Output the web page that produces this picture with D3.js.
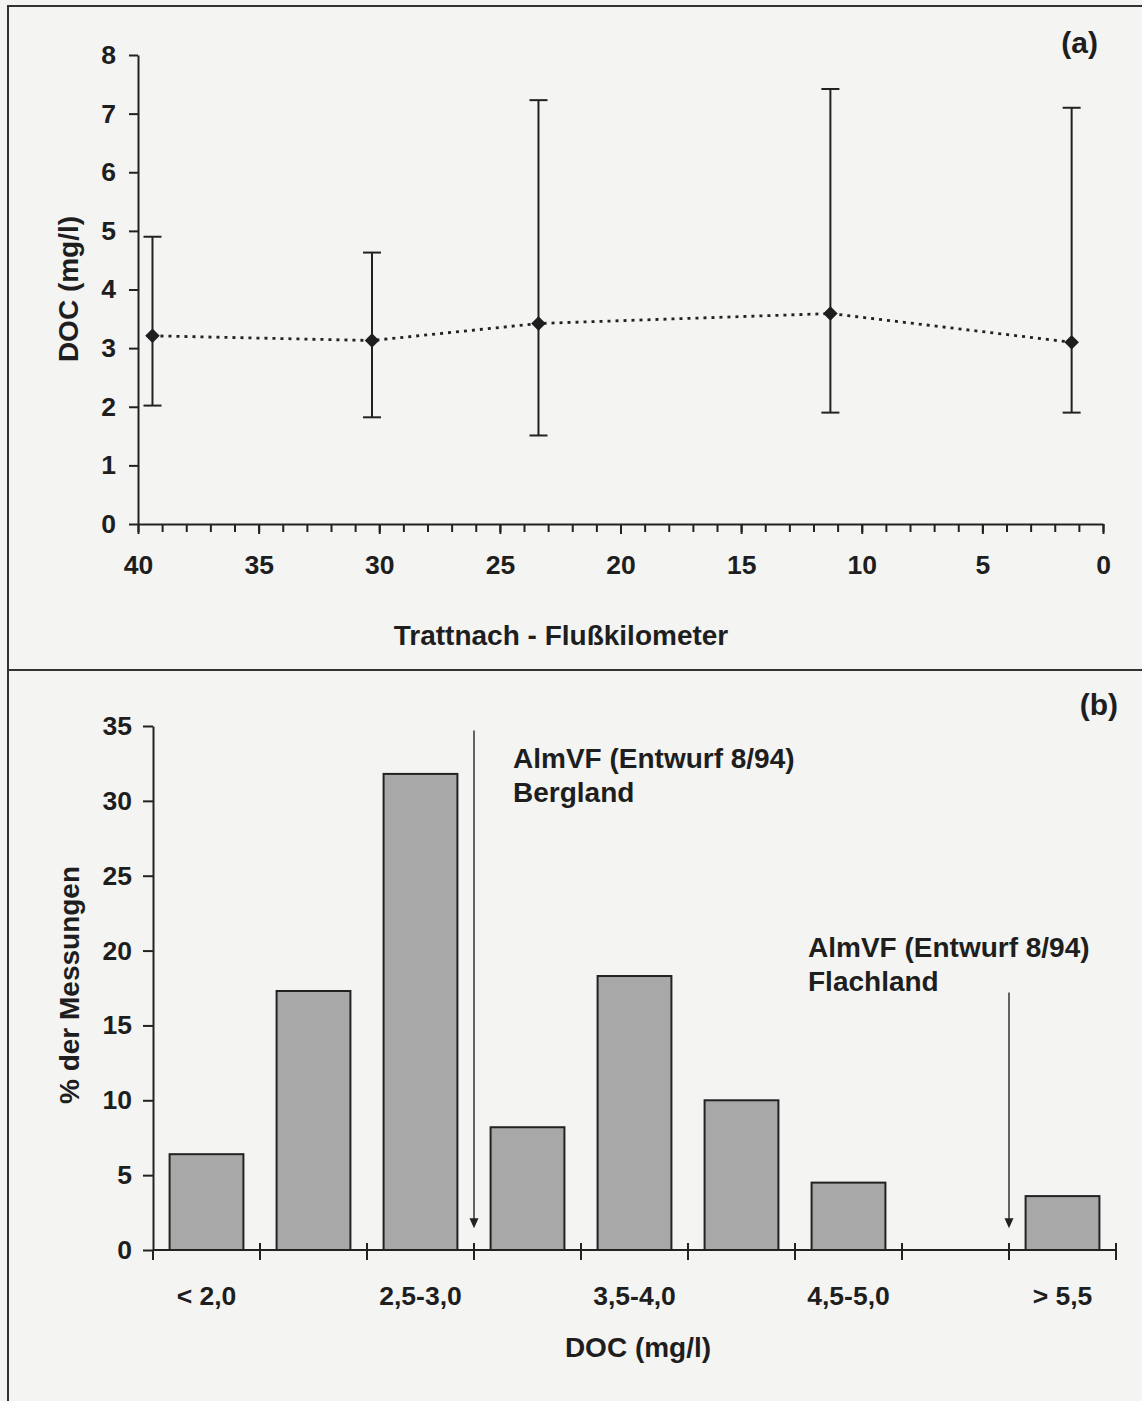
<!DOCTYPE html>
<html>
<head>
<meta charset="utf-8">
<script src="https://cdn.jsdelivr.net/npm/d3@7"></script>
<style>
  body { margin: 0; background: #f4f4f2; }
  svg { display: block; }
  text { font-family: "Liberation Sans", Arial, sans-serif; font-weight: bold; fill: #1e1e1e; }
  .axis path, .axis line { stroke: #222; stroke-width: 2; }
</style>
</head>
<body>
<div id="chart"></div>
<script>
// panel (a): DOC along the river
const kmPos   = [39.4, 30.3, 23.4, 11.3, 1.3];
const docMean = [3.21, 3.13, 3.42, 3.59, 3.10];
const docMin  = [2.02, 1.82, 1.51, 1.90, 1.90];
const docMax  = [4.90, 4.63, 7.23, 7.42, 7.10];
const docTicks = [0, 1, 2, 3, 4, 5, 6, 7, 8];
const kmLabels = [40, 35, 30, 25, 20, 15, 10, 5, 0];

// panel (b): frequency distribution
const doClasses = ['< 2,0', '2,0-2,5', '2,5-3,0', '3,0-3,5', '3,5-4,0', '4,0-4,5', '4,5-5,0', '5,0-5,5', '> 5,5'];
const doShown   = ['< 2,0', '2,5-3,0', '3,5-4,0', '4,5-5,0', '> 5,5'];
const pctValues = [6.4, 17.3, 31.8, 8.2, 18.3, 10.0, 4.5, 0, 3.6];
const pctTicks  = [0, 5, 10, 15, 20, 25, 30, 35];
const limitNames = ['Bergland', 'Flachland'];
const limitClass = ['3,0-3,5', '> 5,5'];

const W = 1142, H = 1401;
const TICK_FS = '26.5px', TITLE_FS = '28px', TAG_FS = '30px';

const svg = d3.select('#chart').append('svg')
    .attr('width', W).attr('height', H);

svg.append('rect').attr('width', W).attr('height', H).attr('fill', '#f4f4f2');

// frame of the figure
svg.append('path')
    .attr('d', `M8,${H} V6 H${W}`)
    .attr('fill', 'none').attr('stroke', '#333').attr('stroke-width', 2);
svg.append('line')
    .attr('x1', 8).attr('x2', W).attr('y1', 670).attr('y2', 670)
    .attr('stroke', '#333').attr('stroke-width', 2);

/* ---------- panel (a) ---------- */
let x = d3.scaleLinear().domain([40, 0]).range([138, 1103]);
let y = d3.scaleLinear().domain([0, 8]).range([524, 55]);

let ga = svg.append('g');

// y axis
ga.append('g')
    .attr('class', 'axis')
    .attr('transform', 'translate(138,0)')
    .call(d3.axisLeft(y).tickValues(docTicks).tickSize(9).tickSizeOuter(0).tickPadding(13))
    .call(g => g.selectAll('text').style('font-size', TICK_FS));

// x axis: minor ticks every km
ga.append('g')
    .attr('class', 'axis')
    .attr('transform', 'translate(0,524)')
    .call(d3.axisBottom(x).tickValues(d3.range(0, 41)).tickSize(8).tickSizeOuter(0).tickFormat(''));
ga.append('g')
    .attr('class', 'axis')
    .attr('transform', 'translate(0,524)')
    .call(d3.axisBottom(x).tickValues(kmLabels).tickSize(10).tickSizeOuter(0).tickPadding(21))
    .call(g => g.select('.domain').remove())
    .call(g => g.selectAll('text').style('font-size', TICK_FS));

ga.append('text')
    .attr('text-anchor', 'middle')
    .attr('x', 561).attr('y', 645)
    .style('font-size', TITLE_FS)
    .text('Trattnach - Flußkilometer');

ga.append('text')
    .attr('text-anchor', 'middle')
    .attr('transform', 'translate(78,289) rotate(-90)')
    .style('font-size', TITLE_FS)
    .text('DOC (mg/l)');

ga.append('text')
    .attr('text-anchor', 'end')
    .attr('x', 1098).attr('y', 53)
    .style('font-size', TAG_FS)
    .text('(a)');

// dotted mean line
let pts = kmPos.map((k, i) => [x(k), y(docMean[i])]);
ga.append('path')
    .attr('d', d3.line()(pts))
    .attr('fill', 'none')
    .attr('stroke', '#222')
    .attr('stroke-width', 2.8)
    .attr('stroke-dasharray', '3 5');

// error bars
kmPos.forEach((k, i) => {
    let cx = x(k);
    let e = ga.append('g').attr('stroke', '#222').attr('stroke-width', 2);
    e.append('line').attr('x1', cx).attr('x2', cx).attr('y1', y(docMin[i])).attr('y2', y(docMax[i]));
    e.append('line').attr('x1', cx - 9).attr('x2', cx + 9).attr('y1', y(docMin[i])).attr('y2', y(docMin[i]));
    e.append('line').attr('x1', cx - 9).attr('x2', cx + 9).attr('y1', y(docMax[i])).attr('y2', y(docMax[i]));
});

ga.selectAll('path.mark')
    .data(pts)
    .enter()
    .append('path')
        .attr('class', 'mark')
        .attr('transform', d => `translate(${d[0]},${d[1]})`)
        .attr('d', d3.symbol().type(d3.symbolDiamond2).size(135)())
        .attr('fill', '#1e1e1e');

/* ---------- panel (b) ---------- */
let xb = d3.scaleBand().domain(doClasses).range([153, 1116]);
let yb = d3.scaleLinear().domain([0, 35]).range([1250, 726]);

let gb = svg.append('g');

gb.append('g')
    .attr('class', 'axis')
    .attr('transform', 'translate(153,0)')
    .call(d3.axisLeft(yb).tickValues(pctTicks).tickSize(10).tickSizeOuter(0).tickPadding(11))
    .call(g => g.selectAll('text').style('font-size', TICK_FS));

// bars
gb.selectAll('rect.bar')
    .data(pctValues.map((v, i) => ({ c: doClasses[i], v })).filter(d => d.v > 0))
    .enter()
    .append('rect')
        .attr('class', 'bar')
        .attr('x', d => xb(d.c) + xb.bandwidth() * 0.155)
        .attr('width', xb.bandwidth() * 0.69)
        .attr('y', d => yb(d.v))
        .attr('height', d => yb(0) - yb(d.v))
        .attr('fill', '#a8a8a8')
        .attr('stroke', '#222')
        .attr('stroke-width', 2);

// x axis line and class boundary ticks
let bounds = doClasses.map(c => xb(c) + xb.bandwidth());
gb.append('line')
    .attr('x1', 153).attr('x2', 1116).attr('y1', yb(0)).attr('y2', yb(0))
    .attr('stroke', '#222').attr('stroke-width', 2);
gb.selectAll('line.btick')
    .data(bounds)
    .enter()
    .append('line')
        .attr('class', 'btick')
        .attr('x1', d => d).attr('x2', d => d)
        .attr('y1', yb(0) - 7).attr('y2', yb(0) + 10)
        .attr('stroke', '#222').attr('stroke-width', 2);
gb.append('line')
    .attr('x1', 153).attr('x2', 153).attr('y1', yb(0)).attr('y2', yb(0) + 10)
    .attr('stroke', '#222').attr('stroke-width', 2);

gb.selectAll('text.cat')
    .data(doShown)
    .enter()
    .append('text')
        .attr('class', 'cat')
        .attr('text-anchor', 'middle')
        .attr('x', d => xb(d) + xb.bandwidth() / 2)
        .attr('y', 1305)
        .style('font-size', TICK_FS)
        .text(d => d);

gb.append('text')
    .attr('text-anchor', 'middle')
    .attr('x', 638).attr('y', 1357)
    .style('font-size', TITLE_FS)
    .text('DOC (mg/l)');

gb.append('text')
    .attr('text-anchor', 'middle')
    .attr('transform', 'translate(79,985) rotate(-90)')
    .style('font-size', TITLE_FS)
    .text('% der Messungen');

gb.append('text')
    .attr('text-anchor', 'end')
    .attr('x', 1118).attr('y', 715)
    .style('font-size', TAG_FS)
    .text('(b)');

// limit arrows (AlmVF draft)
let arrowTop = [34.7, 17.2];
let labelPos = [[513, 768], [808, 957]];
limitClass.forEach((c, i) => {
    let ax = xb(c);
    let tip = yb(1.45);
    gb.append('line')
        .attr('x1', ax).attr('x2', ax)
        .attr('y1', yb(arrowTop[i])).attr('y2', tip - 8)
        .attr('stroke', '#333').attr('stroke-width', 1.5);
    gb.append('path')
        .attr('d', `M${ax - 4.5},${tip - 10} L${ax + 4.5},${tip - 10} L${ax},${tip} Z`)
        .attr('fill', '#222');
    let t = gb.append('text')
        .attr('x', labelPos[i][0]).attr('y', labelPos[i][1])
        .style('font-size', TITLE_FS);
    t.append('tspan').attr('x', labelPos[i][0]).text('AlmVF (Entwurf 8/94)');
    t.append('tspan').attr('x', labelPos[i][0]).attr('dy', 34).text(limitNames[i]);
});
</script>
</body>
</html>
